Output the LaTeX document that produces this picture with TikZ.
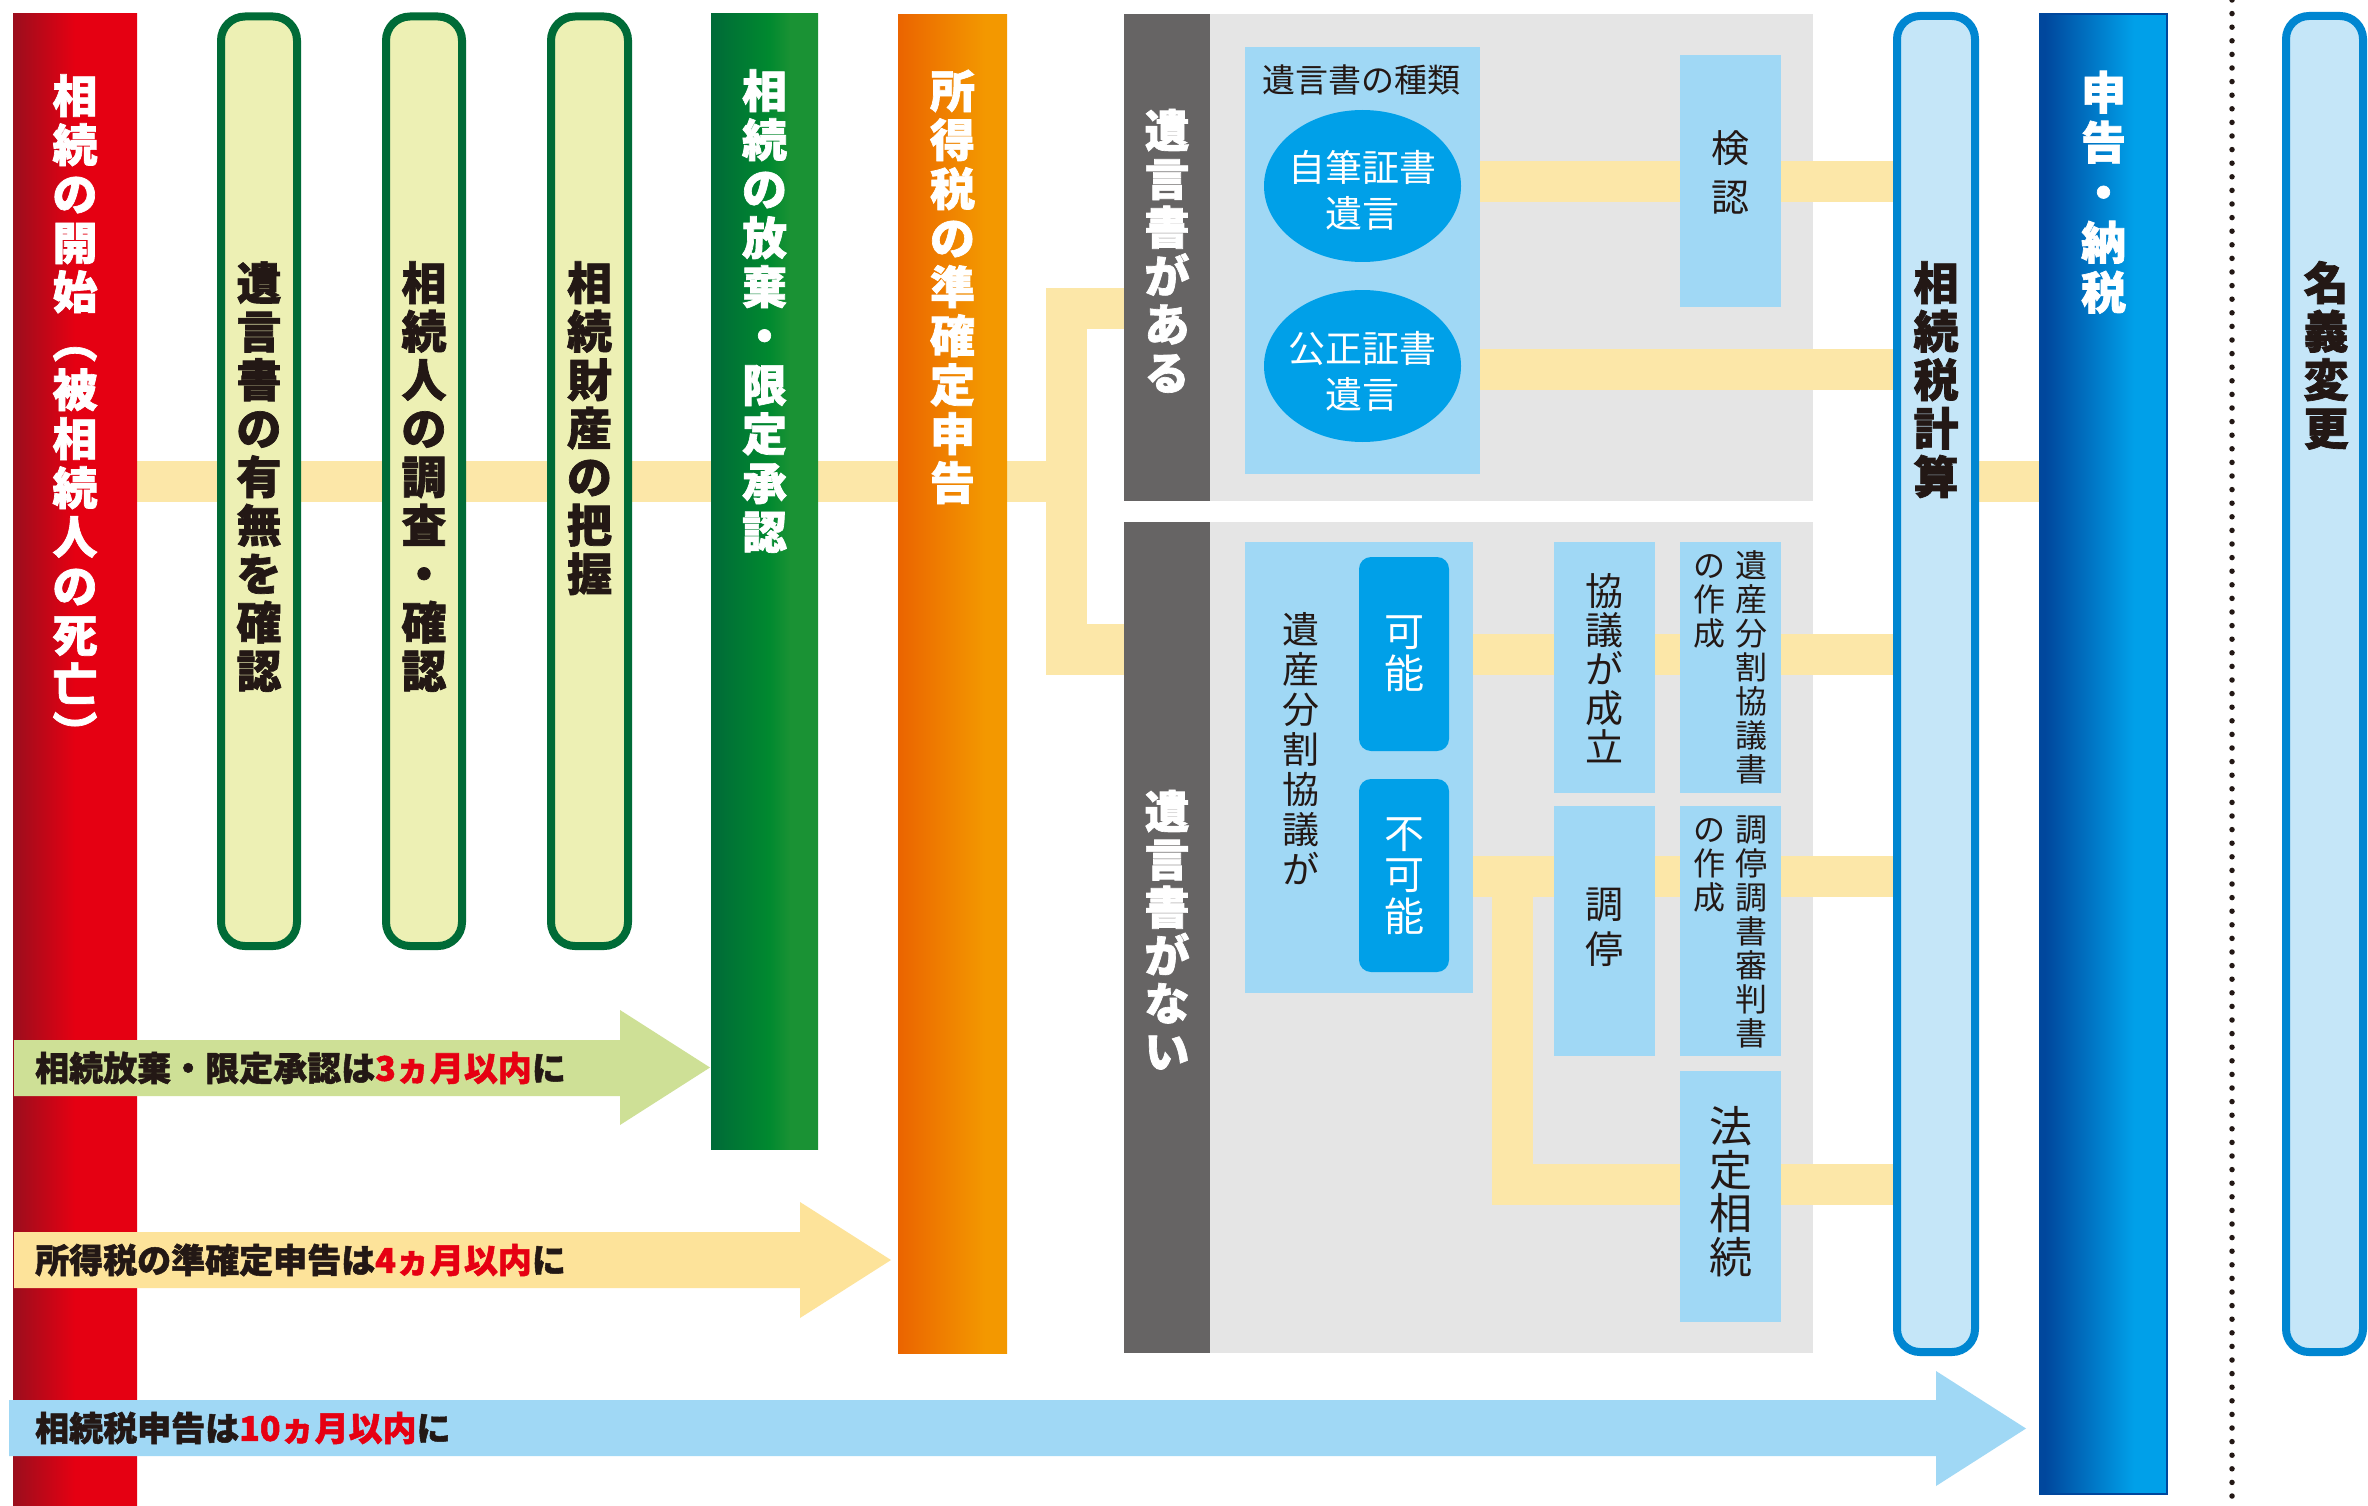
\documentclass[tikz,border=0pt]{standalone}
\usepackage{fontspec}
\setmainfont{Noto Sans CJK JP}[BoldFeatures={FakeBold=1.5}]
\usetikzlibrary{shapes.geometric}
\pgfdeclarelayer{bottom}\pgfdeclarelayer{bands}
\pgfsetlayers{bottom,bands,main}
\definecolor{rdA}{HTML}{9B0E1D}
\definecolor{rdB}{HTML}{E50012}
\definecolor{pale}{HTML}{EDF0B4}
\definecolor{dgreen}{HTML}{006B37}
\definecolor{gnA}{HTML}{006A38}
\definecolor{gnB}{HTML}{00892F}
\definecolor{gnC}{HTML}{1A9234}
\definecolor{orA}{HTML}{EB6400}
\definecolor{orB}{HTML}{F39800}
\definecolor{bandc}{HTML}{FCE7A8}
\definecolor{dgray}{HTML}{666464}
\definecolor{lgray}{HTML}{E5E5E5}
\definecolor{lblue}{HTML}{A0D8F5}
\definecolor{mblue}{HTML}{00A0E8}
\definecolor{ink}{HTML}{231815}
\definecolor{pblue}{HTML}{C5E6F8}
\definecolor{bblue}{HTML}{0086D1}
\definecolor{nvA}{HTML}{00479D}
\definecolor{nvB}{HTML}{00A0E9}
\definecolor{arG}{HTML}{CEE096}
\definecolor{arY}{HTML}{FDE39A}
\definecolor{arB}{HTML}{A0D8F5}
\definecolor{txtred}{HTML}{E60012}
\pgfdeclarehorizontalshading{redsh}{100bp}{color(0bp)=(rdA); color(25bp)=(rdA); color(50bp)=(rdB); color(100bp)=(rdB)}
\pgfdeclarehorizontalshading{grnsh}{100bp}{color(0bp)=(gnA); color(25bp)=(gnA); color(52bp)=(gnB); color(62bp)=(gnC); color(100bp)=(gnC)}
\pgfdeclarehorizontalshading{orsh}{100bp}{color(0bp)=(orA); color(25bp)=(orA); color(65bp)=(orB); color(100bp)=(orB)}
\pgfdeclarehorizontalshading{nvsh}{100bp}{color(0bp)=(nvA); color(27bp)=(nvA); color(62bp)=(nvB); color(100bp)=(nvB)}
\makeatletter
\def\vt@loop#1{\ifx\relax#1\else\hbox to 1em{\hss#1\hss\vrule height .88em depth .12em width 0pt}\expandafter\vt@loop\fi}
\newcommand\vtx[2]{\vbox{\baselineskip=#1pt\relax\lineskiplimit=-1000pt\relax\lineskip=0pt\relax\vt@loop#2\relax}}
\makeatother
\newcommand\bx[6][]{\node[#1,anchor=north west,inner sep=0pt,outer sep=0pt,minimum width={(#5)-(#3)},minimum height={(#6)-(#4)}] (#2) at (#3,#4) {};}
\begin{document}
\begin{tikzpicture}[x=1pt,y=-1pt,
  palebar/.style={draw=dgreen,line width=8pt,fill=pale,rounded corners=24pt},
  bluebar/.style={draw=bblue,line width=8pt,fill=pblue,rounded corners=23pt},
  band/.style={draw=bandc,line width=41pt,line join=miter},
  vtw/.style={inner sep=0pt,anchor=north,text=white,font=\bfseries\fontsize{45pt}{49pt}\selectfont},
  vtk/.style={inner sep=0pt,anchor=north,text=ink,font=\bfseries\fontsize{45pt}{49pt}\selectfont},
  rg/.style={inner sep=0pt,anchor=north,text=ink},
  rgw/.style={inner sep=0pt,anchor=north,text=white},
  artxt/.style={inner sep=0pt,anchor=west,text=ink,font=\bfseries\fontsize{34pt}{34pt}\selectfont},
  ellbox/.style={ellipse,fill=mblue,inner sep=0pt,minimum width=197pt,minimum height=152pt}]
\useasboundingbox (0,0) rectangle (2368,1506);
\begin{pgfonlayer}{bottom}
\fill[white] (0,0) rectangle (2368,1506);
\bx[fill=lgray]{yesbg}{1210}{14}{1813}{501}
\bx[fill=lgray]{nobg}{1210}{522}{1813}{1353}
\end{pgfonlayer}
% columns
\bx[shade,shading=redsh]{nred}{13}{14}{137}{1506}
\bx[palebar]{p1}{221}{16.5}{297}{946}
\bx[palebar]{p2}{386}{16.5}{462}{946}
\bx[palebar]{p3}{551}{16.5}{628}{946}
\bx[shade,shading=grnsh]{ngreen}{711}{14}{818}{1149}
\bx[shade,shading=orsh]{norange}{898}{15}{1007}{1353}
\bx[fill=dgray]{yes}{1124}{14}{1210}{501}
\bx[fill=dgray]{no}{1124}{522}{1210}{1353}
% will present
\bx[fill=lblue]{kinds}{1245}{47}{1480}{474}
\node[ellbox] (e1) at (1362.5,186) {};
\node[ellbox] (e2) at (1362.5,366) {};
\bx[fill=lblue]{kennin}{1680}{55}{1781}{307}
% no will
\bx[fill=lblue]{div}{1245}{542}{1473}{993}
\bx[fill=mblue,rounded corners=12pt]{can}{1359}{557}{1449}{751}
\bx[fill=mblue,rounded corners=12pt]{cannot}{1359}{779}{1449}{972}
\bx[fill=lblue]{agree}{1554}{542}{1655}{793}
\bx[fill=lblue]{agreedoc}{1680}{542}{1781}{793}
\bx[fill=lblue]{med}{1554}{806}{1655}{1056}
\bx[fill=lblue]{meddoc}{1680}{806}{1781}{1056}
\bx[fill=lblue]{legal}{1680}{1071}{1781}{1322}
% right side
\bx[bluebar]{calc}{1897}{16}{1975}{1352}
\bx[shade,shading=nvsh,draw=nvA,line width=1.5pt]{pay}{2040}{14}{2167}{1494}
\bx[bluebar]{meigi}{2286}{16}{2363}{1352}
% connector bands
\coordinate (yM) at (0,481.5);
\coordinate (yK) at (0,181.5);
\coordinate (yJ) at (0,369);
\coordinate (yA) at (0,654.5);
\coordinate (yB) at (0,876);
\coordinate (yC) at (0,1184);
\coordinate (brT) at (1066.5,308.5);
\coordinate (brB) at (1066.5,649.5);
\coordinate (vx) at (1512.5,876);
\begin{pgfonlayer}{bands}
\draw[band] (nred.east |- yM) -- (norange.west |- yM);
\draw[band] (norange.east |- yM) -- (brT |- yM);
\draw[band] (yes.west |- brT) -- (brT) -- (brB);
\draw[band,line width=51pt] ([xshift=-20.5pt]brB) -- (no.west |- brB);
\draw[band] (kinds.east |- yK) -- (kennin.west |- yK);
\draw[band] (kennin.east |- yK) -- (calc.west |- yK);
\draw[band] (kinds.east |- yJ) -- (calc.west |- yJ);
\draw[band] (div.east |- yA) -- (agree.west |- yA);
\draw[band] (agree.east |- yA) -- (agreedoc.west |- yA);
\draw[band] (agreedoc.east |- yA) -- (calc.west |- yA);
\draw[band] (div.east |- yB) -- (med.west |- yB);
\draw[band] (med.east |- yB) -- (meddoc.west |- yB);
\draw[band] (meddoc.east |- yB) -- (calc.west |- yB);
\draw[band] (vx) -- (vx |- yC) -- (legal.west |- yC);
\draw[band] (legal.east |- yC) -- (calc.west |- yC);
\draw[band] (calc.east |- yM) -- (pay.west |- yM);
\end{pgfonlayer}
% dotted divider
\coordinate (dtop) at (2232,0);
\coordinate (dbot) at (2232,1506);
\draw[ink,line width=5.5pt,line cap=round,dash pattern=on 0pt off 13.6pt] (dtop) -- (dbot);
% deadline arrows
\fill[arG] (14,1040) -- (620,1040) -- (620,1010) -- (710,1067.5) -- (620,1125) -- (620,1096) -- (14,1096) -- cycle;
\fill[arY] (14,1232) -- (800,1232) -- (800,1202) -- (891,1260) -- (800,1318) -- (800,1288) -- (14,1288) -- cycle;
\fill[arB] (9,1400) -- (1936,1400) -- (1936,1371) -- (2026,1428.5) -- (1936,1486) -- (1936,1456) -- (9,1456) -- cycle;
\node[artxt] (ta1) at (35,1068) {相続放棄・限定承認は\textcolor{txtred}{3ヵ月以内}に};
\node[artxt] (ta2) at (35,1260) {所得税の準確定申告は\textcolor{txtred}{4ヵ月以内}に};
\node[artxt] (ta3) at (35,1428) {相続税申告は\textcolor{txtred}{10ヵ月以内}に};
% column texts
\node[vtw] (tred) at (75,73) {\vtx{49}{相続の開始︵被相続人の死亡︶}};
\node[vtk] (tp1) at (259,260) {\vtx{48.5}{遺言書の有無を確認}};
\node[vtk] (tp2) at (424,260) {\vtx{48.5}{相続人の調査・確認}};
\node[vtk] (tp3) at (589.5,260) {\vtx{48.5}{相続財産の把握}};
\node[vtw] (tgr) at (764.5,68) {\vtx{49}{相続の放棄・限定承認}};
\node[vtw] (tor) at (952.5,68) {\vtx{49}{所得税の準確定申告}};
\node[vtw] (tyes) at (1167,107.5) {\vtx{48.5}{遺言書がある}};
\node[vtw] (tno) at (1167,788.5) {\vtx{48}{遺言書がない}};
\node[vtk] (tcalc) at (1936,260) {\vtx{48.5}{相続税計算}};
\node[vtw] (tpay) at (2103.5,69.5) {\vtx{50}{申告・納税}};
\node[vtk] (tmeigi) at (2326,260) {\vtx{48.5}{名義変更}};
% inner texts
\node[rg,anchor=center,font=\fontsize{33pt}{33pt}\selectfont] (tkinds) at (1361,80) {遺言書の種類};
\node[rgw,anchor=center,align=center,font=\fontsize{37pt}{46pt}\selectfont] (te1) at (1362.5,190) {自筆証書\\遺言};
\node[rgw,anchor=center,align=center,font=\fontsize{37pt}{46pt}\selectfont] (te2) at (1362.5,371) {公正証書\\遺言};
\node[rg,font=\fontsize{38pt}{49pt}\selectfont] (tk) at (1730.5,129) {\vtx{49}{検認}};
\node[rg,font=\fontsize{37pt}{40pt}\selectfont] (tdiv) at (1301,610.5) {\vtx{40}{遺産分割協議が}};
\node[rgw,font=\fontsize{40pt}{42pt}\selectfont] (tcan) at (1404,611) {\vtx{42}{可能}};
\node[rgw,font=\fontsize{40pt}{42pt}\selectfont] (tcannot) at (1404,813) {\vtx{41.5}{不可能}};
\node[rg,font=\fontsize{38pt}{39pt}\selectfont] (tagree) at (1604.5,572) {\vtx{39}{協議が成立}};
\node[rg,font=\fontsize{32pt}{34pt}\selectfont] (tad1) at (1751,549) {\vtx{34}{遺産分割協議書}};
\node[rg,font=\fontsize{32pt}{34pt}\selectfont] (tad2) at (1709,549) {\vtx{34}{の作成}};
\node[rg,font=\fontsize{38pt}{45pt}\selectfont] (tmed) at (1604.5,885) {\vtx{45}{調停}};
\node[rg,font=\fontsize{32pt}{34pt}\selectfont] (tmd1) at (1751,813) {\vtx{34}{調停調書審判書}};
\node[rg,font=\fontsize{32pt}{34pt}\selectfont] (tmd2) at (1709,813) {\vtx{34}{の作成}};
\node[rg,font=\fontsize{43pt}{43.5pt}\selectfont] (tlegal) at (1730.5,1104.5) {\vtx{43.5}{法定相続}};
\end{tikzpicture}
\end{document}
